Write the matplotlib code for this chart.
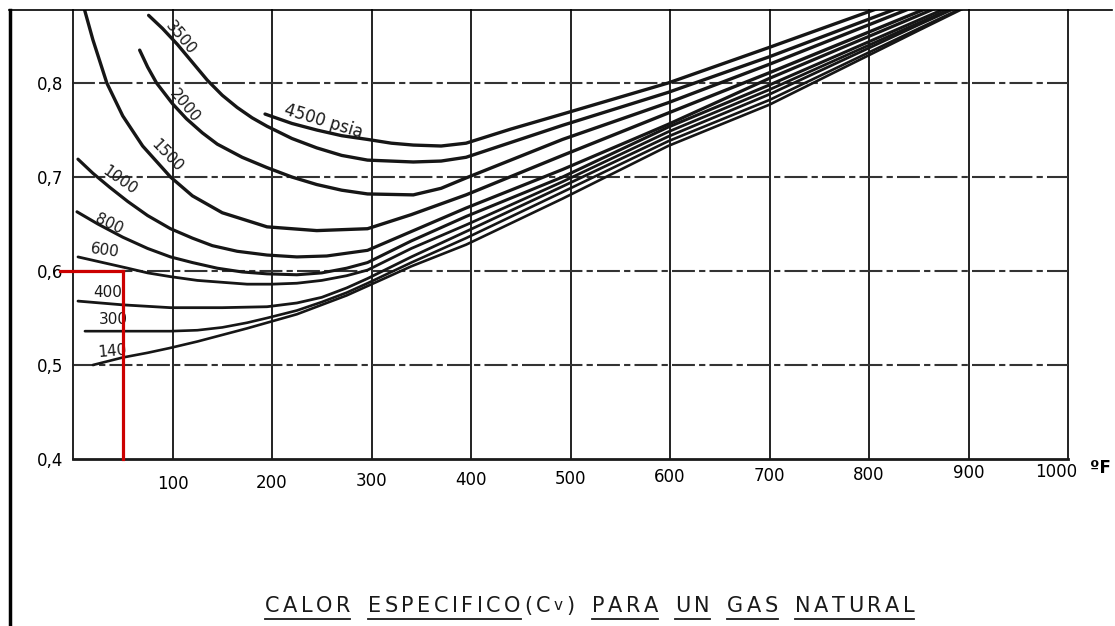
import matplotlib.pyplot as plt
from matplotlib.lines import Line2D

# Calor especifico Cv de un gas natural, leido del grafico escaneado
# temperatura en ºF, Cv en BTU/lb ºF, una curva por presion (psia)
temp_4500 = [193, 220, 245, 270, 296, 320, 342, 370, 395, 440, 492, 598, 700, 850, 950]
cv_4500 = [0.767, 0.757, 0.750, 0.744, 0.740, 0.736, 0.734, 0.733, 0.736, 0.751, 0.767, 0.800,
           0.838, 0.895, 0.933]

temp_3500 = [76, 90, 105, 120, 135, 150, 165, 180, 195, 220, 245, 270, 296, 342, 370, 395,
             492, 598, 700, 850, 950]
cv_3500 = [0.872, 0.858, 0.841, 0.822, 0.803, 0.787, 0.774, 0.763, 0.754, 0.741, 0.731, 0.723,
           0.718, 0.716, 0.717, 0.721, 0.755, 0.790, 0.828, 0.888, 0.928]

temp_2000 = [67, 75, 84, 100, 114, 130, 145, 170, 195, 220, 245, 270, 296, 342, 370, 395,
             492, 598, 700, 850, 950]
cv_2000 = [0.835, 0.817, 0.800, 0.778, 0.762, 0.747, 0.735, 0.721, 0.710, 0.700, 0.692, 0.686,
           0.682, 0.681, 0.688, 0.699, 0.740, 0.779, 0.820, 0.883, 0.925]

temp_1500 = [10, 20, 34, 50, 70, 98, 120, 150, 195, 245, 296, 340, 395, 492, 598, 700, 850, 950]
cv_1500 = [0.884, 0.846, 0.800, 0.765, 0.733, 0.700, 0.680, 0.662, 0.647, 0.643, 0.645, 0.660,
           0.681, 0.723, 0.768, 0.811, 0.876, 0.919]

temp_1000 = [5, 20, 37, 55, 75, 98, 120, 140, 165, 195, 225, 255, 296, 340, 395, 492, 598, 700,
             850, 950]
cv_1000 = [0.719, 0.704, 0.689, 0.674, 0.659, 0.645, 0.635, 0.627, 0.621, 0.617, 0.615, 0.616,
           0.622, 0.642, 0.667, 0.708, 0.756, 0.805, 0.872, 0.917]

temp_800 = [4, 25, 50, 75, 98, 120, 145, 170, 195, 225, 250, 275, 296, 340, 395, 492, 598, 700,
            850, 950]
cv_800 = [0.663, 0.650, 0.636, 0.624, 0.615, 0.609, 0.603, 0.599, 0.597, 0.596, 0.598, 0.603,
          0.609, 0.632, 0.658, 0.700, 0.753, 0.798, 0.867, 0.913]

temp_600 = [5, 30, 55, 75, 98, 125, 150, 175, 200, 225, 250, 275, 296, 340, 395, 492, 598, 700,
            850, 950]
cv_600 = [0.615, 0.609, 0.603, 0.598, 0.594, 0.590, 0.588, 0.586, 0.586, 0.587, 0.590, 0.595,
          0.601, 0.624, 0.649, 0.695, 0.748, 0.793, 0.864, 0.911]

temp_400 = [5, 50, 98, 150, 195, 225, 250, 275, 296, 340, 395, 492, 598, 700, 850, 950]
cv_400 = [0.568, 0.564, 0.561, 0.561, 0.562, 0.566, 0.572, 0.582, 0.592, 0.615, 0.642, 0.690,
          0.743, 0.788, 0.862, 0.910]

temp_300 = [12, 60, 98, 125, 150, 175, 195, 225, 250, 275, 296, 340, 395, 492, 598, 700, 850, 950]
cv_300 = [0.536, 0.536, 0.536, 0.537, 0.540, 0.545, 0.550, 0.558, 0.567, 0.577, 0.587, 0.609,
          0.635, 0.684, 0.738, 0.782, 0.858, 0.908]

temp_140 = [20, 50, 75, 97, 125, 150, 175, 195, 225, 250, 275, 296, 340, 395, 492, 598, 700,
            850, 950]
cv_140 = [0.500, 0.508, 0.513, 0.518, 0.525, 0.532, 0.539, 0.545, 0.554, 0.564, 0.574, 0.584,
          0.605, 0.628, 0.677, 0.733, 0.777, 0.856, 0.908]

# nombre, datos, grosor, posicion y giro de la etiqueta
curvas = [
    ("4500 psia", temp_4500, cv_4500, 2.4, 252, 0.759, -17, 12),
    ("3500", temp_3500, cv_3500, 2.4, 108, 0.848, -50, 11),
    ("2000", temp_2000, cv_2000, 2.4, 112, 0.776, -50, 11),
    ("1500", temp_1500, cv_1500, 2.4, 94, 0.723, -46, 11),
    ("1000", temp_1000, cv_1000, 2.3, 47, 0.696, -35, 11),
    ("800", temp_800, cv_800, 2.2, 36, 0.650, -25, 11),
    ("600", temp_600, cv_600, 2.0, 32, 0.622, -8, 11),
    ("400", temp_400, cv_400, 2.0, 35, 0.577, 0, 11),
    ("300", temp_300, cv_300, 1.9, 41, 0.548, 0, 11),
    ("140", temp_140, cv_140, 1.9, 40, 0.515, 5, 11),
]

x_ticks = [100, 200, 300, 400, 500, 600, 700, 800, 900, 1000]
y_ticks = [0.4, 0.5, 0.6, 0.7, 0.8]
y_labels = ["0,4", "0,5", "0,6", "0,7", "0,8"]

# lectura marcada en rojo: 50 ºF -> Cv 0,6
red_temp = 50
red_cv = 0.6

W, H = 1115, 626
fig = plt.figure(figsize=(W / 100, H / 100), dpi=100)
ax = fig.add_axes([73 / W, (H - 459) / H, 995 / W, 449 / H])
ax.set_xlim(0, 1000)
ax.set_ylim(0.4, 0.8777)

for s in ["top", "right"]:
    ax.spines[s].set_visible(False)
ax.spines["left"].set_linewidth(1.4)
ax.spines["left"].set_color("#222222")
ax.spines["bottom"].set_linewidth(2.0)
ax.spines["bottom"].set_color("#1a1a1a")

# cuadricula: verticales continuas, horizontales de trazo y punto
for t in x_ticks:
    ax.axvline(t, color="#222222", lw=1.4, clip_on=False, zorder=1)
for c in y_ticks[1:]:
    ax.plot([-1, 1000], [c, c], color="#333333", lw=1.5,
            linestyle=(0, (11, 2, 3, 2)), clip_on=False, zorder=1)

for nombre, tt, cv, lw, lx, ly, rot, fs in curvas:
    ax.plot(tt, cv, color="#161616", lw=lw, solid_capstyle="round",
            solid_joinstyle="round", zorder=3)
    ax.text(lx, ly, nombre, fontsize=fs, rotation=rot, ha="center", va="center",
            color="#1a1a1a", zorder=4)

ax.plot([-13, red_temp], [red_cv, red_cv], color="#cc0000", lw=2.3, clip_on=False, zorder=5)
ax.plot([red_temp, red_temp], [red_cv, 0.4], color="#cc0000", lw=2.3, clip_on=False, zorder=5)

ax.set_yticks(y_ticks, y_labels)
ax.tick_params(axis="y", length=0, pad=7, labelsize=12)
ax.set_xticks([])

# rotulos del eje x, algo inclinados como en el original
for t in x_ticks:
    y_px = 484 - 12 * (t - 100) / 900
    dx = -12 if t == 1000 else 0
    ax.annotate(str(t), xy=(t, 0), xycoords=("data", "axes fraction"),
                xytext=(dx * 0.72, -(y_px - 459) * 0.72), textcoords="offset points",
                ha="center", va="center", fontsize=12, annotation_clip=False)
ax.annotate("ºF", xy=(1000, 0), xycoords=("data", "axes fraction"),
            xytext=(32 * 0.72, -(468 - 459) * 0.72), textcoords="offset points",
            ha="center", va="center", fontsize=12, fontweight="bold", annotation_clip=False)

# marco del escaneo
fig.add_artist(Line2D([9.5 / W, 9.5 / W], [0, 1 - 10 / H], color="black", lw=2.5))
fig.add_artist(Line2D([9 / W, 1112 / W], [1 - 10 / H, 1 - 10 / H], color="black", lw=1.2))

# titulo con letras espaciadas y palabras subrayadas
palabras = [("CALOR", True, 14), ("ESPECIFICO", True, 0), ("(C", False, 0), ("v", False, 0),
            (")", False, 14), ("PARA", True, 14), ("UN", True, 14), ("GAS", True, 14),
            ("NATURAL", True, 0)]
rend = fig.canvas.get_renderer()
x = 265.0
y_tit = 1 - 606 / H
for palabra, sub, hueco in palabras:
    x_ini = x
    fs = 11 if palabra == "v" else 15
    for letra in palabra:
        tx = fig.text(x / W, y_tit, letra, fontsize=fs, ha="left", va="center", color="#1a1a1a")
        bb = tx.get_window_extent(rend)
        x += bb.width + 3.5
    if sub:
        yl = (bb.y0 - 3) / H
        fig.add_artist(Line2D([x_ini / W, (x - 3.5) / W], [yl, yl], color="#1a1a1a", lw=1.3))
    x += hueco

fig.savefig("out.png", dpi=100)
